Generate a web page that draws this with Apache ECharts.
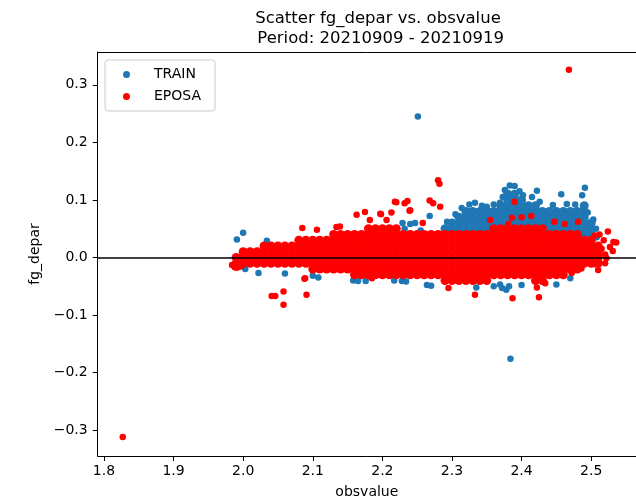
<!DOCTYPE html>
<html>
<head>
<meta charset="utf-8">
<script src="https://cdn.jsdelivr.net/npm/echarts@6/dist/echarts.min.js"></script>
<style>html,body{margin:0;padding:0;background:#fff;}#c{width:636px;height:500px;}</style>
</head>
<body>
<div id="c"></div>
<script>
// ---- tick labels ----
const xTicks = [1.8, 1.9, 2.0, 2.1, 2.2, 2.3, 2.4, 2.5];
const yTicks = [-0.3, -0.2, -0.1, 0.0, 0.1, 0.2, 0.3];

// ---- TRAIN (blue) : dense hump columns [x, y1, y2, ...] ----
const trainDenseCols = [
  [2.29,0.04,0.05],
  [2.30,0.04,0.05,0.06],
  [2.31,0.04,0.05,0.06,0.07],
  [2.32,0.04,0.05,0.06,0.07,0.08],
  [2.33,0.04,0.05,0.06,0.07,0.08],
  [2.34,0.04,0.05,0.06,0.07,0.08],
  [2.35,0.04,0.05,0.06,0.07,0.08],
  [2.36,0.04,0.05,0.06,0.07,0.08],
  [2.37,0.04,0.05,0.06,0.07,0.08,0.09],
  [2.38,0.04,0.05,0.06,0.07,0.08,0.09,0.10,0.11],
  [2.39,0.04,0.05,0.06,0.07,0.08,0.09,0.10,0.11],
  [2.40,0.04,0.05,0.06,0.07,0.08,0.09,0.10],
  [2.41,0.04,0.05,0.06,0.07,0.08,0.09],
  [2.42,0.04,0.05,0.06,0.07,0.08,0.09],
  [2.43,0.04,0.05,0.06,0.07,0.08],
  [2.44,0.04,0.05,0.06,0.07,0.08],
  [2.45,0.04,0.05,0.06,0.07,0.08],
  [2.46,0.04,0.05,0.06,0.07,0.08],
  [2.47,0.04,0.05,0.06,0.07,0.08],
  [2.48,0.04,0.05,0.06,0.07,0.08],
  [2.49,0.04,0.05,0.06,0.07,0.08,0.09],
  [2.50,0.03,0.04,0.05,0.06]
];
// ---- TRAIN (blue) : individual points [x, y] ----
const trainPoints = [
  [2.251,0.245],[2.384,-0.176],[1.991,0.031],[2.000,0.043],[2.034,0.029],
  [2.229,0.060],[2.232,0.050],[2.240,0.058],[2.247,0.060],[2.255,0.047],[2.268,0.072],
  [2.293,0.062],[2.305,0.075],[2.314,0.086],[2.325,0.092],[2.333,0.095],[2.343,0.090],
  [2.350,0.088],[2.360,0.092],[2.369,0.095],[2.373,0.105],[2.376,0.117],[2.380,0.112],
  [2.383,0.125],[2.390,0.124],[2.397,0.115],[2.402,0.108],[2.415,0.105],[2.422,0.116],
  [2.426,0.097],[2.445,0.091],[2.457,0.110],[2.465,0.093],[2.477,0.092],[2.487,0.108],
  [2.491,0.121],[2.495,0.078],[2.503,0.066],[2.507,0.050],[2.508,0.035],
  [2.003,-0.020],[2.022,-0.027],[2.060,-0.028],[2.100,-0.032],[2.108,-0.035],
  [2.158,-0.040],[2.165,-0.041],[2.176,-0.041],[2.217,-0.040],[2.228,-0.041],
  [2.234,-0.042],[2.264,-0.048],[2.270,-0.049],[2.335,-0.052],[2.360,-0.050],
  [2.369,-0.047],[2.372,-0.053],[2.378,-0.056],[2.382,-0.050],[2.400,-0.048],
  [2.450,-0.047],[2.470,-0.036]
];

// ---- EPOSA (red) : dense band columns [x, y1, y2, ...] ----
const eposaDenseCols = [
  [1.99,-0.01,0],
  [2.00,-0.01,0,0.01],
  [2.01,-0.01,0,0.01],
  [2.02,-0.01,0,0.01],
  [2.03,-0.01,0,0.01,0.02],
  [2.04,-0.01,0,0.01,0.02],
  [2.05,-0.01,0,0.01,0.02],
  [2.06,-0.01,0,0.01,0.02],
  [2.07,-0.01,0,0.01,0.02],
  [2.08,-0.01,0,0.01,0.02,0.03],
  [2.09,-0.01,0,0.01,0.02,0.03],
  [2.10,-0.02,-0.01,0,0.01,0.02,0.03],
  [2.11,-0.02,-0.01,0,0.01,0.02,0.03],
  [2.12,-0.02,-0.01,0,0.01,0.02,0.03],
  [2.13,-0.02,-0.01,0,0.01,0.02,0.03,0.04],
  [2.14,-0.02,-0.01,0,0.01,0.02,0.03,0.04],
  [2.15,-0.02,-0.01,0,0.01,0.02,0.03,0.04],
  [2.16,-0.03,-0.02,-0.01,0,0.01,0.02,0.03,0.04],
  [2.17,-0.03,-0.02,-0.01,0,0.01,0.02,0.03,0.04],
  [2.18,-0.03,-0.02,-0.01,0,0.01,0.02,0.03,0.04,0.05],
  [2.19,-0.03,-0.02,-0.01,0,0.01,0.02,0.03,0.04,0.05],
  [2.20,-0.03,-0.02,-0.01,0,0.01,0.02,0.03,0.04,0.05],
  [2.21,-0.03,-0.02,-0.01,0,0.01,0.02,0.03,0.04,0.05],
  [2.22,-0.03,-0.02,-0.01,0,0.01,0.02,0.03,0.04,0.05],
  [2.23,-0.03,-0.02,-0.01,0,0.01,0.02,0.03,0.04],
  [2.24,-0.03,-0.02,-0.01,0,0.01,0.02,0.03,0.04],
  [2.25,-0.03,-0.02,-0.01,0,0.01,0.02,0.03,0.04],
  [2.26,-0.03,-0.02,-0.01,0,0.01,0.02,0.03,0.04],
  [2.27,-0.03,-0.02,-0.01,0,0.01,0.02,0.03,0.04],
  [2.28,-0.03,-0.02,-0.01,0,0.01,0.02,0.03,0.04],
  [2.29,-0.04,-0.03,-0.02,-0.01,0,0.01,0.02,0.03,0.04],
  [2.30,-0.04,-0.03,-0.02,-0.01,0,0.01,0.02,0.03,0.04],
  [2.31,-0.04,-0.03,-0.02,-0.01,0,0.01,0.02,0.03,0.04],
  [2.32,-0.04,-0.03,-0.02,-0.01,0,0.01,0.02,0.03,0.04],
  [2.33,-0.04,-0.03,-0.02,-0.01,0,0.01,0.02,0.03,0.04],
  [2.34,-0.04,-0.03,-0.02,-0.01,0,0.01,0.02,0.03,0.04],
  [2.35,-0.04,-0.03,-0.02,-0.01,0,0.01,0.02,0.03,0.04],
  [2.36,-0.03,-0.02,-0.01,0,0.01,0.02,0.03,0.04,0.05],
  [2.37,-0.03,-0.02,-0.01,0,0.01,0.02,0.03,0.04,0.05],
  [2.38,-0.03,-0.02,-0.01,0,0.01,0.02,0.03,0.04,0.05],
  [2.39,-0.03,-0.02,-0.01,0,0.01,0.02,0.03,0.04,0.05],
  [2.40,-0.03,-0.02,-0.01,0,0.01,0.02,0.03,0.04,0.05],
  [2.41,-0.03,-0.02,-0.01,0,0.01,0.02,0.03,0.04,0.05],
  [2.42,-0.04,-0.03,-0.02,-0.01,0,0.01,0.02,0.03,0.04,0.05],
  [2.43,-0.04,-0.03,-0.02,-0.01,0,0.01,0.02,0.03,0.04,0.05],
  [2.44,-0.03,-0.02,-0.01,0,0.01,0.02,0.03,0.04],
  [2.45,-0.03,-0.02,-0.01,0,0.01,0.02,0.03,0.04],
  [2.46,-0.03,-0.02,-0.01,0,0.01,0.02,0.03,0.04],
  [2.47,-0.02,-0.01,0,0.01,0.02,0.03,0.04],
  [2.48,-0.02,-0.01,0,0.01,0.02,0.03,0.04],
  [2.49,-0.01,0,0.01,0.02,0.03],
  [2.50,-0.01,0,0.01,0.02,0.03],
  [2.51,-0.01,0,0.01,0.02]
];
// ---- EPOSA (red) : individual points [x, y] ----
const eposaPoints = [
  [2.468,0.326],[1.827,-0.312],
  [1.984,-0.013],[1.988,-0.017],[1.991,-0.018],[1.995,-0.016],[1.998,-0.015],
  [2.085,0.051],[2.106,0.048],[2.134,0.053],[2.139,0.054],[2.163,0.074],[2.175,0.079],
  [2.182,0.065],[2.197,0.076],[2.198,0.075],[2.206,0.065],[2.213,0.078],[2.218,0.097],
  [2.220,0.096],[2.232,0.094],[2.236,0.098],[2.239,0.081],[2.240,0.082],[2.258,0.060],
  [2.268,0.099],[2.273,0.094],[2.283,0.088],[2.280,0.134],[2.282,0.128],
  [2.355,0.065],[2.381,0.058],[2.386,0.069],[2.390,0.097],[2.400,0.070],[2.414,0.072],
  [2.447,0.062],[2.462,0.058],[2.481,0.062],
  [2.505,0.038],[2.512,0.040],[2.518,0.030],[2.524,0.045],[2.515,0.015],[2.520,0.005],
  [2.522,-0.001],[2.532,0.027],[2.536,0.026],[2.531,0.011],[2.527,0.018],[2.520,-0.010],
  [2.510,-0.022],[2.505,-0.012],
  [2.041,-0.067],[2.046,-0.067],[2.058,-0.059],[2.058,-0.082],[2.091,-0.065],
  [2.088,-0.037],[2.089,-0.036],[2.185,-0.036],[2.216,-0.030],[2.232,-0.030],
  [2.295,-0.053],[2.333,-0.065],[2.387,-0.071],[2.425,-0.069],[2.422,-0.052],
  [2.434,-0.045],[2.472,-0.027],[2.486,-0.019]
];

const FONT = 'DejaVu Sans';
const expand = cols => cols.flatMap(c => c.slice(1).map(y => [c[0], y]));
const fmtY = v => (Math.abs(v) < 1e-9 ? '0.0' : v.toFixed(1).replace('-', '\u2212'));
const axisLineStyle = {color: '#000', width: 1};

const chart = echarts.init(document.getElementById('c'), null, {renderer: 'canvas'});
chart.setOption({
  animation: false,
  backgroundColor: '#fff',
  title: {
    text: 'Scatter fg_depar vs. obsvalue\n Period: 20210909 - 20210919',
    left: 373, top: 4, textAlign: 'center',
    textStyle: {fontFamily: FONT, fontSize: 16.5, fontWeight: 'normal', color: '#000', lineHeight: 20}
  },
  legend: {
    orient: 'vertical', left: 105, top: 60,
    padding: [7, 14, 7, 18], itemGap: 7,
    itemWidth: 7, itemHeight: 7,
    backgroundColor: '#fff', borderColor: '#cccccc', borderWidth: 1, borderRadius: 3,
    textStyle: {fontFamily: FONT, fontSize: 14, color: '#000', padding: [0, 0, 0, 19], lineHeight: 15},
    data: [{name: 'TRAIN', icon: 'circle'}, {name: 'EPOSA', icon: 'circle'}]
  },
  grid: {left: 97.7, top: 52, right: 0, height: 404, show: false, outerBoundsMode: 'none', containLabel: false},
  xAxis: [{
    type: 'value', min: 1.791, max: 2.5644, position: 'bottom',
    name: 'obsvalue', nameLocation: 'middle', nameGap: 29,
    nameTextStyle: {fontFamily: FONT, fontSize: 14, color: '#000'},
    axisLine: {show: true, onZero: false, lineStyle: axisLineStyle},
    axisTick: {show: true, length: 5, lineStyle: {color: '#000'}, customValues: xTicks},
    axisLabel: {fontFamily: FONT, fontSize: 14, color: '#000', margin: 8, customValues: xTicks, formatter: v => v.toFixed(1)},
    splitLine: {show: false}
  }, {
    type: 'value', min: 1.791, max: 2.5644, position: 'top',
    axisLine: {show: true, onZero: false, lineStyle: axisLineStyle},
    axisTick: {show: false}, axisLabel: {show: false}, splitLine: {show: false}
  }],
  yAxis: {
    type: 'value', min: -0.345, max: 0.357,
    name: 'fg_depar', nameLocation: 'middle', nameGap: 50,
    nameTextStyle: {fontFamily: FONT, fontSize: 14, color: '#000'},
    axisLine: {show: true, onZero: false, lineStyle: axisLineStyle},
    axisTick: {show: true, length: 5, lineStyle: {color: '#000'}, customValues: yTicks},
    axisLabel: {fontFamily: FONT, fontSize: 14, color: '#000', margin: 10, customValues: yTicks, formatter: fmtY},
    splitLine: {show: false}
  },
  series: [
    {name: 'TRAIN', type: 'scatter', symbol: 'circle', symbolSize: 9, itemStyle: {color: '#1f77b4', opacity: 1}, data: expand(trainDenseCols), silent: true},
    {name: 'TRAIN', type: 'scatter', symbol: 'circle', symbolSize: 6.5, itemStyle: {color: '#1f77b4', opacity: 1}, data: trainPoints, silent: true},
    {name: 'EPOSA', type: 'scatter', symbol: 'circle', symbolSize: 9, itemStyle: {color: '#ff0000', opacity: 1}, data: expand(eposaDenseCols), silent: true},
    {name: 'EPOSA', type: 'scatter', symbol: 'circle', symbolSize: 6.5, itemStyle: {color: '#ff0000', opacity: 1}, data: eposaPoints, silent: true,
      markLine: {silent: true, symbol: ['none', 'none'], label: {show: false}, z: 10,
        lineStyle: {color: '#000', width: 1.6, type: 'solid'}, data: [{yAxis: 0}]}}
  ]
});
</script>
</body>
</html>
